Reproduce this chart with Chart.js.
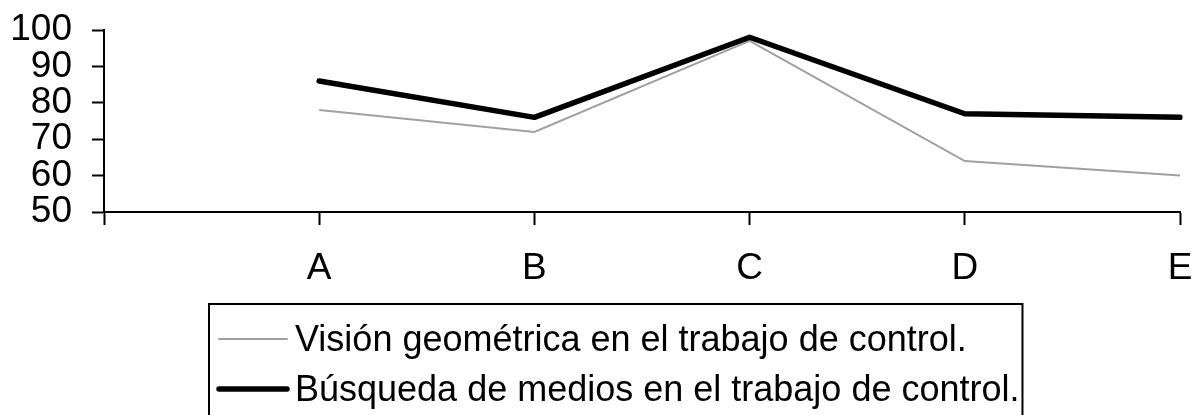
<!DOCTYPE html>
<html>
<head>
<meta charset="utf-8">
<script src="https://cdn.jsdelivr.net/npm/chart.js@4.4.0/dist/chart.umd.min.js"></script>
<style>
    html, body { margin: 0; padding: 0; background: #fff; }
    #chart { display: block; }
</style>
</head>
<body>
<canvas id="chart" width="1194" height="415"></canvas>
<script>
const categories = ['A', 'B', 'C', 'D', 'E'];
const visionValues = [78, 72, 97, 64, 60];
const busquedaValues = [86, 76, 98, 77, 76];
const yTicks = [50, 60, 70, 80, 90, 100];
const seriesLabels = [
    'Visión geométrica en el trabajo de control.',
    'Búsqueda de medios en el trabajo de control.'
];

const FONT = '"Liberation Sans", Arial, sans-serif';

// the category axis starts one empty slot left of A, at the y axis
const labels = [''].concat(categories);
const pad = values => [null].concat(values);

// legend drawn by hand: framed box, line samples close to the text
const boxLegend = {
    id: 'boxLegend',
    afterDraw(chart) {
        const ctx = chart.ctx;
        const left = 209, top = 304, textX = 295;
        const rows = [341, 391];
        let maxW = 0;

        ctx.save();
        ctx.font = '36px ' + FONT;
        ctx.textBaseline = 'middle';
        chart.data.datasets.forEach((ds, i) => {
            const y = rows[i];
            ctx.strokeStyle = ds.borderColor;
            ctx.lineWidth = ds.borderWidth;
            ctx.lineCap = 'round';
            ctx.beginPath();
            ctx.moveTo(219, y - 2);
            ctx.lineTo(287, y - 2);
            ctx.stroke();
            ctx.fillStyle = '#000';
            ctx.fillText(ds.label, textX, y);
            maxW = Math.max(maxW, ctx.measureText(ds.label).width);
        });
        ctx.strokeStyle = '#000';
        ctx.lineWidth = 2;
        ctx.strokeRect(left, top, textX + maxW + 3 - left, 160);
        ctx.restore();
    }
};

new Chart(document.getElementById('chart'), {
    type: 'line',
    data: {
        labels: labels,
        datasets: [
            {
                label: seriesLabels[0],
                data: pad(visionValues),
                borderColor: '#a0a0a0',
                borderWidth: 2,
                pointRadius: 0,
                tension: 0,
                order: 1
            },
            {
                label: seriesLabels[1],
                data: pad(busquedaValues),
                borderColor: '#000000',
                borderWidth: 5.5,
                borderCapStyle: 'round',
                borderJoinStyle: 'round',
                pointRadius: 0,
                tension: 0,
                order: 0
            }
        ]
    },
    options: {
        responsive: false,
        animation: false,
        devicePixelRatio: 1,
        layout: {
            padding: { top: 30, right: 14, left: 0, bottom: 103 }
        },
        plugins: {
            legend: { display: false },
            tooltip: { enabled: false }
        },
        scales: {
            x: {
                offset: false,
                grid: {
                    drawOnChartArea: false,
                    drawTicks: true,
                    tickLength: 13,
                    tickColor: '#000',
                    tickWidth: 2
                },
                border: { display: true, color: '#000', width: 2 },
                ticks: {
                    color: '#000',
                    font: { family: FONT, size: 37 },
                    padding: 22,
                    maxRotation: 0,
                    autoSkip: false
                },
                afterFit: scale => {
                    scale.height = 100;
                    scale.paddingLeft = 0;
                    scale.paddingRight = 0;
                }
            },
            y: {
                min: 50,
                max: 100,
                grid: {
                    drawOnChartArea: false,
                    drawTicks: true,
                    tickLength: 12,
                    tickColor: '#000',
                    tickWidth: 2
                },
                border: { display: true, color: '#000', width: 2 },
                ticks: {
                    color: '#000',
                    font: { family: FONT, size: 37 },
                    padding: 20,
                    autoSkip: false
                },
                afterBuildTicks: scale => {
                    scale.ticks = yTicks.map(v => ({ value: v }));
                },
                afterFit: scale => {
                    scale.width = 104;
                    scale.paddingTop = 0;
                    scale.paddingBottom = 0;
                }
            }
        }
    },
    plugins: [boxLegend]
});
</script>
</body>
</html>
